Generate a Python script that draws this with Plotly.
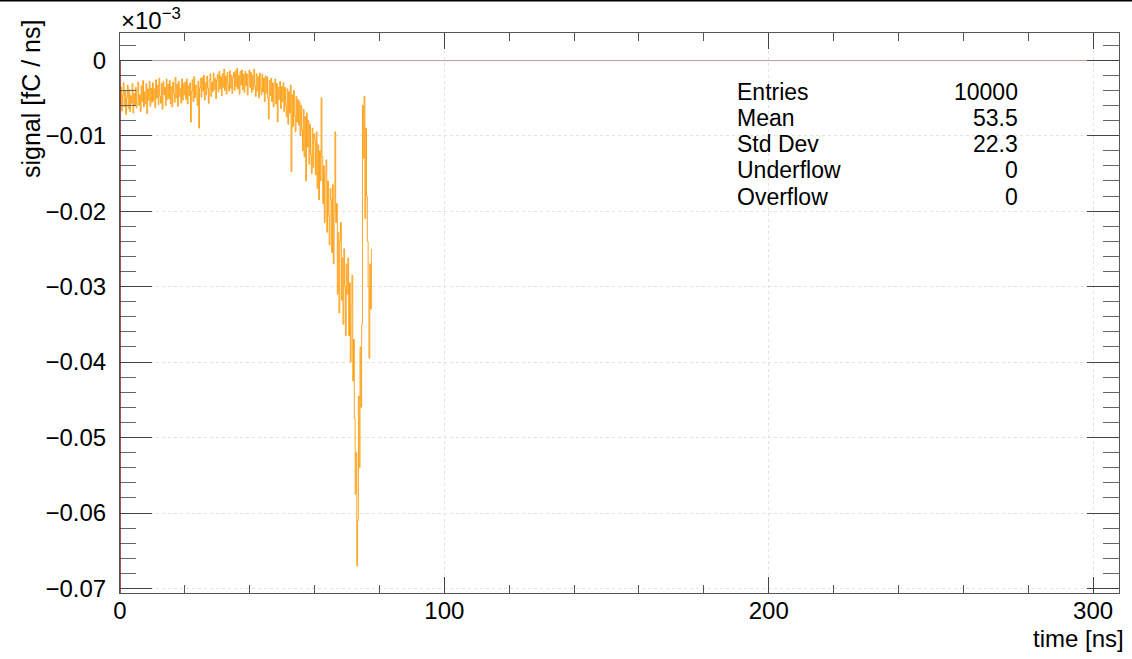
import plotly.graph_objects as go

# ---- data (values in units of 1e-3 fC/ns), 0.25 ns bins starting at 0 ns ----
bin_width_ns = 0.25
signal = [
    # 0 - 5 ns
    -0.0058, -0.0036, -0.0067, -0.0045, -0.0030, -0.0062, -0.0041, -0.0072, -0.0050, -0.0033,
    -0.0064, -0.0039, -0.0068, -0.0047, -0.0057, -0.0031, -0.0070, -0.0044, -0.0060, -0.0036,
    # 5 - 10 ns
    -0.0063, -0.0040, -0.0029, -0.0060, -0.0046, -0.0068, -0.0034, -0.0055, -0.0027, -0.0062,
    -0.0042, -0.0058, -0.0031, -0.0071, -0.0038, -0.0053, -0.0028, -0.0061, -0.0037, -0.0056,
    # 10 - 15 ns
    -0.0030, -0.0054, -0.0038, -0.0063, -0.0026, -0.0050, -0.0033, -0.0059, -0.0024, -0.0048,
    -0.0057, -0.0031, -0.0065, -0.0028, -0.0046, -0.0036, -0.0060, -0.0025, -0.0052, -0.0032,
    # 15 - 20 ns
    -0.0051, -0.0027, -0.0058, -0.0035, -0.0062, -0.0029, -0.0044, -0.0056, -0.0023, -0.0050,
    -0.0032, -0.0061, -0.0028, -0.0048, -0.0037, -0.0057, -0.0025, -0.0053, -0.0031, -0.0046,
    # 20 - 25 ns
    -0.0029, -0.0052, -0.0025, -0.0058, -0.0034, -0.0047, -0.0030, -0.0082, -0.0041, -0.0026,
    -0.0055, -0.0022, -0.0050, -0.0033, -0.0045, -0.0060, -0.0028, -0.0090, -0.0037, -0.0024,
    # 25 - 30 ns
    -0.0049, -0.0023, -0.0041, -0.0020, -0.0053, -0.0030, -0.0046, -0.0021, -0.0037, -0.0057,
    -0.0026, -0.0018, -0.0048, -0.0029, -0.0042, -0.0017, -0.0039, -0.0024, -0.0051, -0.0027,
    # 30 - 35 ns
    -0.0019, -0.0042, -0.0015, -0.0038, -0.0022, -0.0047, -0.0018, -0.0036, -0.0012, -0.0040,
    -0.0021, -0.0045, -0.0016, -0.0033, -0.0041, -0.0014, -0.0037, -0.0020, -0.0044, -0.0023,
    # 35 - 40 ns
    -0.0016, -0.0040, -0.0014, -0.0035, -0.0011, -0.0038, -0.0020, -0.0045, -0.0015, -0.0033,
    -0.0013, -0.0039, -0.0019, -0.0043, -0.0015, -0.0034, -0.0018, -0.0046, -0.0022, -0.0013,
    # 40 - 45 ns
    -0.0036, -0.0016, -0.0043, -0.0020, -0.0039, -0.0012, -0.0034, -0.0048, -0.0018, -0.0041,
    -0.0022, -0.0050, -0.0017, -0.0038, -0.0046, -0.0019, -0.0042, -0.0024, -0.0055, -0.0021,
    # 45 - 50 ns
    -0.0044, -0.0022, -0.0050, -0.0078, -0.0027, -0.0047, -0.0024, -0.0055, -0.0030, -0.0062,
    -0.0033, -0.0025, -0.0058, -0.0031, -0.0082, -0.0036, -0.0052, -0.0028, -0.0064, -0.0035,
    # 50 - 55 ns
    -0.0055, -0.0030, -0.0068, -0.0036, -0.0060, -0.0075, -0.0038, -0.0085, -0.0042, -0.0070,
    -0.0033, -0.0148, -0.0046, -0.0088, -0.0040, -0.0074, -0.0095, -0.0048, -0.0082, -0.0052,
    # 55 - 60 ns
    -0.0086, -0.0055, -0.0100, -0.0060, -0.0092, -0.0120, -0.0065, -0.0128, -0.0075, -0.0160,
    -0.0070, -0.0115, -0.0080, -0.0138, -0.0085, -0.0125, -0.0150, -0.0090, -0.0142, -0.0098,
    # 60 - 65 ns
    -0.0105, -0.0152, -0.0095, -0.0170, -0.0112, -0.0185, -0.0120, -0.0160, -0.0050, -0.0128,
    -0.0190, -0.0140, -0.0215, -0.0150, -0.0132, -0.0228, -0.0160, -0.0205, -0.0245, -0.0170,
    # 65 - 70 ns
    -0.0185, -0.0255, -0.0165, -0.0270, -0.0200, -0.0095, -0.0215, -0.0190, -0.0310, -0.0228,
    -0.0335, -0.0240, -0.0215, -0.0318, -0.0262, -0.0350, -0.0250, -0.0300, -0.0365, -0.0270,
    # 70 - 75 ns
    -0.0310, -0.0262, -0.0365, -0.0295, -0.0400, -0.0325, -0.0285, -0.0425, -0.0370, -0.0475,
    -0.0575, -0.0520, -0.0670, -0.0610, -0.0445, -0.0540, -0.0380, -0.0460, -0.0350, -0.0060,
    # 75 - 77.5 ns
    -0.0130, -0.0048, -0.0210, -0.0090, -0.0180, -0.0240, -0.0300, -0.0395, -0.0270, -0.0330,
    -0.0250,
]
time_ns = [i * bin_width_ns for i in range(len(signal))]

x_ticks = [0, 100, 200, 300]
y_ticks = [0, -0.01, -0.02, -0.03, -0.04, -0.05, -0.06, -0.07]

stats_labels = ["Entries", "Mean", "Std Dev", "Underflow", "Overflow"]
stats_values = ["10000", "53.5", "22.3", "0", "0"]

FONT = "Liberation Sans, Arial, Helvetica, sans-serif"

fig = go.Figure()
fig.add_trace(go.Scatter(
    x=time_ns, y=signal, mode="lines", line_shape="hv",
    line=dict(color="rgba(255,150,0,0.85)", width=1),
    showlegend=False, hoverinfo="skip",
))

W, H = 1132, 659
ml, mr, mt, mb = 120, 13, 33, 66
pw, ph = W - ml - mr, H - mt - mb

def px_x(px):
    return (px - ml) / pw

def px_y(py):
    return 1 - (py - mt) / ph

fig.update_layout(
    width=W, height=H,
    margin=dict(l=ml, r=mr, t=mt, b=mb),
    paper_bgcolor="white", plot_bgcolor="white",
    font=dict(family=FONT, size=24, color="black"),
    showlegend=False,
)
fig.update_xaxes(
    range=[0, 308], tickvals=x_ticks, ticktext=[str(v) for v in x_ticks],
    ticks="inside", ticklen=16, tickcolor="#444", tickwidth=1,
    minor=dict(dtick=20, tick0=0, ticks="inside", ticklen=8, tickcolor="#555", showgrid=False),
    showline=True, linecolor="#555", linewidth=1, mirror="allticks",
    showgrid=True, gridcolor="#e2e2e2", griddash="dot", gridwidth=1,
    zeroline=False, ticklabelstandoff=-4,
    tickfont=dict(size=24),
)
fig.update_yaxes(
    range=[-0.0706, 0.0036], tickvals=y_ticks,
    ticktext=["0"] + ["\u2212" + f"{abs(v):.2f}" for v in y_ticks[1:]],
    ticks="inside", ticklen=32, tickcolor="#444", tickwidth=1,
    minor=dict(dtick=0.002, tick0=0, ticks="inside", ticklen=16, tickcolor="#666", showgrid=False),
    showline=True, linecolor="#555", linewidth=1, mirror="allticks",
    showgrid=True, gridcolor="#e2e2e2", griddash="dot", gridwidth=1,
    zeroline=True, zerolinecolor="#c99a9a", zerolinewidth=1,
    ticklabelstandoff=8,
    tickfont=dict(size=24),
)

# left edge of the histogram (dark red) below zero
fig.add_shape(type="line", xref="x", yref="y", x0=0, x1=0, y0=-0.0706, y1=0,
              line=dict(color="#7a1f1f", width=1.5))
# black line across top of page
fig.add_shape(type="line", xref="paper", yref="paper",
              x0=px_x(0), x1=px_x(W), y0=px_y(0.5), y1=px_y(0.5),
              line=dict(color="black", width=2))

# axis titles
fig.add_annotation(text="signal [fC / ns]", textangle=-90, xref="paper", yref="paper",
                   x=px_x(31), y=px_y(18), xanchor="center", yanchor="top",
                   showarrow=False, font=dict(size=25))
fig.add_annotation(text="time [ns]", xref="paper", yref="paper",
                   x=px_x(1126), y=px_y(638), xanchor="right", yanchor="middle",
                   showarrow=False, font=dict(size=24))
fig.add_annotation(text="\u00d710<sup>\u22123</sup>", xref="paper", yref="paper",
                   x=px_x(119), y=px_y(19), xanchor="left", yanchor="middle",
                   showarrow=False, font=dict(size=24))

# stats box
row_py = [92, 118, 144, 170, 197]
for lab, val, py in zip(stats_labels, stats_values, row_py):
    fig.add_annotation(text=lab, xref="paper", yref="paper", x=px_x(735), y=px_y(py),
                       xanchor="left", yanchor="middle", showarrow=False, font=dict(size=23))
    fig.add_annotation(text=val, xref="paper", yref="paper", x=px_x(1020), y=px_y(py),
                       xanchor="right", yanchor="middle", showarrow=False, font=dict(size=23))

fig.write_html("out.html")
